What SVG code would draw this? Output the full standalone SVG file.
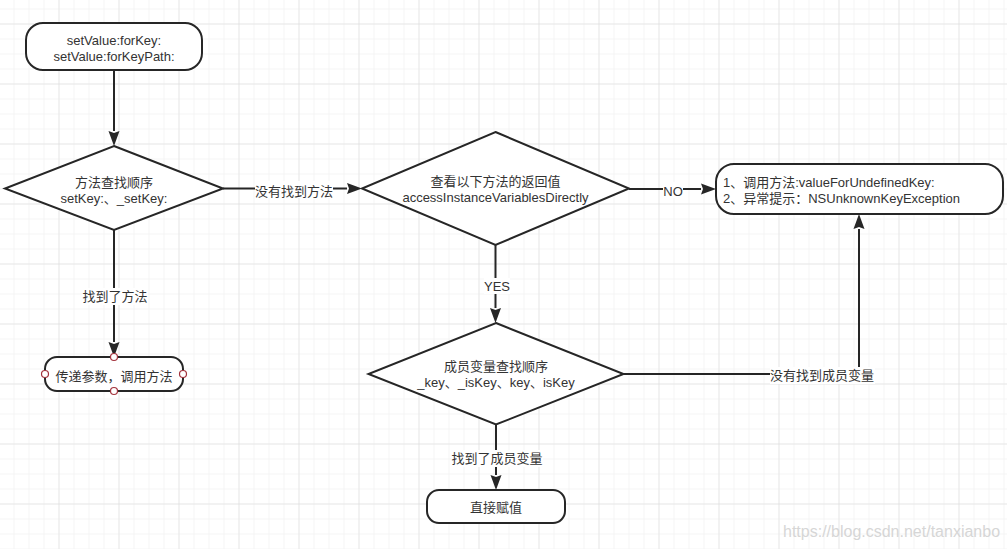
<svg xmlns="http://www.w3.org/2000/svg" width="1007" height="549" viewBox="0 0 1007 549">
<defs>
<pattern id="gridMinor" patternUnits="userSpaceOnUse" x="13.5" y="8.5" width="15" height="15">
<path d="M0,0 H15 M0,0 V15" fill="none" stroke="#ececec" stroke-width="1"/>
</pattern>
<pattern id="gridMajor" patternUnits="userSpaceOnUse" x="58.5" y="23.5" width="60" height="60">
<path d="M0,0 H60 M0,0 V60" fill="none" stroke="#dadada" stroke-width="1"/>
</pattern>
<marker id="arrow" markerUnits="userSpaceOnUse" markerWidth="16" markerHeight="12" refX="0" refY="6" orient="auto" overflow="visible">
<path d="M0,0.5 L15,6 L0,11.5 L2,6 Z" fill="#262626"/>
</marker>
</defs>
<style>
.shape{fill:#ffffff;stroke:#262626;stroke-width:2}
.edge{fill:none;stroke:#262626;stroke-width:2}
.t{font-family:"Liberation Sans","Noto Sans CJK SC",sans-serif;font-size:13px;fill:#333333}
.c{text-anchor:middle}
.lbg{fill:#ffffff}
.pt{fill:#ffffff;stroke:#a3333d;stroke-width:1.2}
.wm{font-family:"Liberation Sans",sans-serif;font-size:16px;fill:#d6d6d6}
</style>
<rect x="0" y="0" width="1007" height="549" fill="#ffffff"/>
<rect x="0" y="0" width="1007" height="549" fill="url(#gridMinor)"/>
<rect x="0" y="0" width="1007" height="549" fill="url(#gridMajor)"/>

<g id="connectors">
<path class="edge" d="M114,70 V131" marker-end="url(#arrow)"/>
<path class="edge" d="M223,188.5 H347" marker-end="url(#arrow)"/>
<path class="edge" d="M629,189 H701" marker-end="url(#arrow)"/>
<path class="edge" d="M495.5,245 V308" marker-end="url(#arrow)"/>
<path class="edge" d="M623.5,374 H859 V229" marker-end="url(#arrow)"/>
<path class="edge" d="M496,424.5 V475" marker-end="url(#arrow)"/>
<path class="edge" d="M114,230 V342" marker-end="url(#arrow)"/>
<g id="edge-labels">
<rect class="lbg" x="255" y="181" width="78" height="17"/>
<text class="t c" x="294" y="196">没有找到方法</text>
<rect class="lbg" x="663" y="182" width="20" height="16"/>
<text class="t c" x="673" y="195.5">NO</text>
<rect class="lbg" x="484" y="278" width="26" height="16"/>
<text class="t c" x="497" y="290.5">YES</text>
<rect class="lbg" x="82" y="288" width="66" height="17"/>
<text class="t c" x="115" y="300.5">找到了方法</text>
<rect class="lbg" x="451" y="450" width="92" height="17"/>
<text class="t c" x="497" y="462.5">找到了成员变量</text>
<rect class="lbg" x="770" y="367" width="105" height="17"/>
<text class="t c" x="822" y="379.5">没有找到成员变量</text>
</g>
</g>

<g id="start">
<rect class="shape" x="26" y="23" width="176" height="47" rx="17" ry="17"/>
<text class="t c" x="114" y="44.5">setValue:forKey:</text>
<text class="t c" x="114" y="60.5">setValue:forKeyPath:</text>
</g>

<g id="decision-method">
<polygon class="shape" points="114,146 223,188.5 114,230 5,188.5"/>
<text class="t c" x="114" y="186.5">方法查找顺序</text>
<text class="t c" x="114" y="202.5">setKey:、_setKey:</text>
</g>

<g id="decision-access">
<polygon class="shape" points="495.5,132 629,188.5 495.5,245 362,188.5"/>
<text class="t c" x="495.5" y="186">查看以下方法的返回值</text>
<text class="t c" x="495.5" y="202">accessInstanceVariablesDirectly</text>
</g>

<g id="undefined-key">
<rect class="shape" x="716" y="164" width="287" height="50" rx="18" ry="18"/>
<text class="t" x="723" y="186.5">1、调用方法:valueForUndefinedKey:</text>
<text class="t" x="723" y="202.5">2、异常提示：NSUnknownKeyException</text>
</g>

<g id="decision-ivar">
<polygon class="shape" points="496,323 623.5,374 496,424.5 368.5,374"/>
<text class="t c" x="496" y="371">成员变量查找顺序</text>
<text class="t c" x="496" y="387">_key、_isKey、key、isKey</text>
</g>

<g id="assign">
<rect class="shape" x="427" y="490" width="138" height="33" rx="12" ry="12"/>
<text class="t c" x="496" y="511.5">直接赋值</text>
</g>

<g id="call-method">
<rect class="shape" x="45" y="357" width="138" height="34" rx="12" ry="12"/>
<text class="t c" x="114" y="380.5">传递参数，调用方法</text>
<circle class="pt" cx="114" cy="357" r="3.5"/>
<circle class="pt" cx="114" cy="391" r="3.5"/>
<circle class="pt" cx="45" cy="374" r="3.5"/>
<circle class="pt" cx="183" cy="374" r="3.5"/>
</g>

<text class="wm" x="783" y="537">https://blog.csdn.net/tanxianbo</text>
</svg>
